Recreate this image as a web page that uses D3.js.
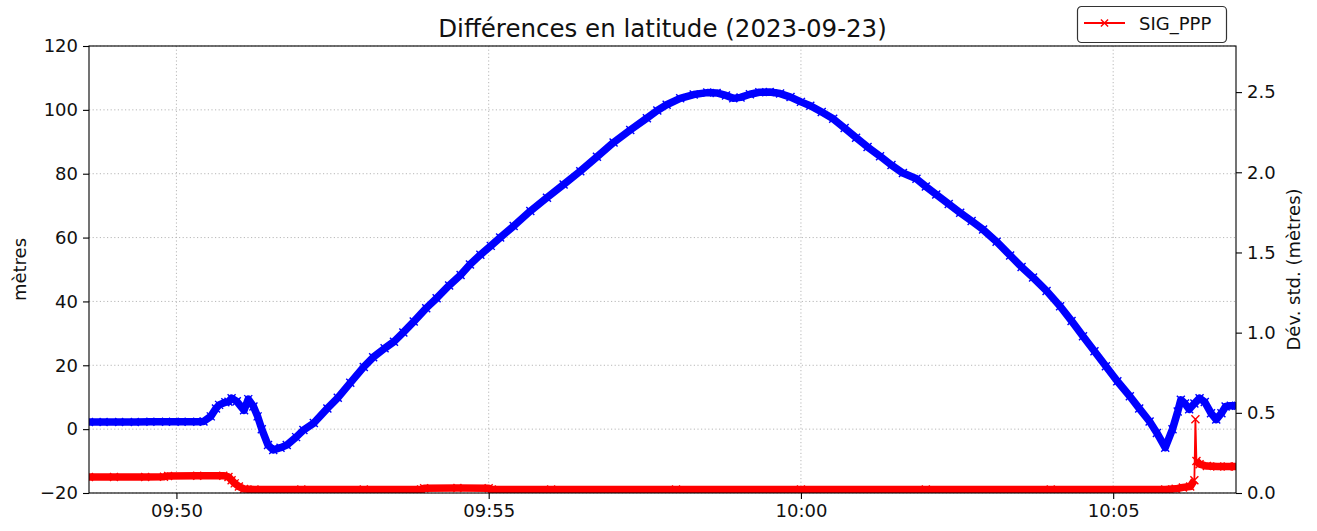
<!DOCTYPE html>
<html><head><meta charset="utf-8">
<script src="https://cdn.jsdelivr.net/npm/d3@7"></script>
<style>body{margin:0;background:#fff}svg{font-family:"DejaVu Sans",sans-serif}</style>
</head><body><svg id="c" width="1317" height="531"></svg>
<script>
const titleText = "Différences en latitude (2023-09-23)";
const leftLabel = "mètres";
const rightLabel = "Dév. std. (mètres)";
const legendLabels = ["SIG_PPP"];
const xTickTimes = ["09:50:00","09:55:00","10:00:00","10:05:00"];
const leftTicks = [-20,0,20,40,60,80,100,120];
const rightTicks = [0,0.5,1,1.5,2,2.5];
const xDomain = ["09:48:36","10:06:58"];
const leftDomain = [-20,120];
const rightDomain = [0,2.7875];

const blueTimes = ["09:48:36","09:48:50","09:49:05","09:49:20","09:49:35","09:49:50","09:50:05","09:50:20","09:50:26","09:50:33","09:50:38","09:50:41","09:50:47","09:50:50","09:50:53","09:50:58","09:51:05","09:51:09","09:51:14","09:51:18","09:51:22","09:51:28","09:51:33","09:51:40","09:51:46","09:51:55","09:52:02","09:52:12","09:52:25","09:52:35","09:52:47","09:53:00","09:53:09","09:53:20","09:53:29","09:53:38","09:53:48","09:54:00","09:54:10","09:54:22","09:54:33","09:54:42","09:54:52","09:55:02","09:55:11","09:55:24","09:55:40","09:55:56","09:56:12","09:56:28","09:56:44","09:57:00","09:57:16","09:57:32","09:57:42","09:57:51","09:58:04","09:58:17","09:58:30","09:58:39","09:58:48","09:58:55","09:59:02","09:59:11","09:59:20","09:59:30","09:59:40","09:59:50","10:00:00","10:00:09","10:00:20","10:00:31","10:00:42","10:00:53","10:01:04","10:01:16","10:01:27","10:01:38","10:01:51","10:02:00","10:02:10","10:02:22","10:02:33","10:02:44","10:02:55","10:03:08","10:03:21","10:03:32","10:03:43","10:03:56","10:04:09","10:04:20","10:04:31","10:04:42","10:04:53","10:05:04","10:05:16","10:05:25","10:05:35","10:05:42","10:05:50","10:05:57","10:06:02","10:06:05","10:06:09","10:06:13","10:06:18","10:06:23","10:06:28","10:06:34","10:06:39","10:06:44","10:06:48","10:06:53","10:06:58"];
const blueValues = [2.2,2.2,2.2,2.2,2.3,2.3,2.3,2.3,2.4,4.0,6.5,7.6,8.4,8.6,9.7,8.7,5.9,9.4,7.1,4.0,0.0,-5.0,-6.5,-5.8,-5.0,-2.5,-0.3,1.9,6.5,9.8,14.5,19.5,22.5,25.3,27.4,30.3,33.7,37.9,41.0,45.0,48.3,51.6,54.6,57.4,60.0,63.6,68.3,72.5,76.6,80.8,85.3,89.8,93.7,97.4,99.8,101.6,103.6,104.8,105.4,105.3,104.5,103.6,103.9,104.9,105.5,105.6,105.1,104.0,102.5,101.3,99.3,97.2,94.3,91.3,88.4,85.5,82.7,80.2,78.4,76.0,73.5,70.5,67.8,65.2,62.5,58.7,54.4,50.8,47.5,43.3,38.5,33.9,29.1,24.4,19.7,15.0,10.3,6.5,2.4,-1.2,-5.8,0.0,5.5,9.2,8.0,6.2,8.0,9.7,8.5,5.0,3.0,5.0,7.1,7.3,7.3];

const redTimes = ["09:48:36","09:49:00","09:49:30","09:49:48","09:49:52","09:50:20","09:50:45","09:50:50","09:50:53","09:50:56","09:51:00","09:51:05","09:51:15","09:52:00","09:53:00","09:53:55","09:53:58","09:54:30","09:55:00","09:55:03","09:56:00","09:58:00","10:00:00","10:02:00","10:04:00","10:05:50","10:06:00","10:06:07","10:06:14","10:06:18","10:06:19","10:06:20","10:06:23","10:06:30","10:06:40","10:06:50","10:06:58"];
const redValues = [0.100,0.100,0.100,0.102,0.106,0.108,0.108,0.100,0.080,0.060,0.040,0.025,0.022,0.022,0.022,0.022,0.030,0.031,0.030,0.022,0.022,0.022,0.022,0.022,0.022,0.022,0.026,0.035,0.040,0.080,0.460,0.200,0.180,0.168,0.166,0.165,0.165];

const W = 1317, H = 531;
const L = 89, R = 1236, T = 46, B = 493;
const svg = d3.select("#c");
const parse = d3.timeParse("%H:%M:%S");

const x = d3.scaleTime().domain(xDomain.map(parse)).range([L, R]);
const yL = d3.scaleLinear().domain(leftDomain).range([B, T]);
const yR = d3.scaleLinear().domain(rightDomain).range([B, T]);

svg.append("defs").append("clipPath").attr("id","clip")
  .append("rect").attr("x",L).attr("y",T).attr("width",R-L).attr("height",B-T);

// grid
const grid = svg.append("g").attr("stroke","#b0b0b0").attr("stroke-width",0.9).attr("stroke-dasharray","1.2,2.4");
grid.selectAll("line.gx").data(xTickTimes.map(parse)).join("line")
  .attr("x1",d=>x(d)).attr("x2",d=>x(d)).attr("y1",T).attr("y2",B);
grid.selectAll("line.gy").data(leftTicks).join("line")
  .attr("x1",L).attr("x2",R).attr("y1",d=>yL(d)).attr("y2",d=>yL(d));

const plot = svg.append("g").attr("clip-path","url(#clip)");
const xMark = s => `M${-s},${-s}L${s},${s}M${-s},${s}L${s},${-s}`;

// blue series
const blue = blueTimes.map((t,i)=>({t:parse(t), v:blueValues[i]}));
const lineB = d3.line().x(d=>x(d.t)).y(d=>yL(d.v));
plot.append("path").datum(blue).attr("d",lineB).attr("fill","none")
  .attr("stroke","#0000ff").attr("stroke-width",7.5).attr("stroke-linejoin","round").attr("stroke-linecap","round");
plot.append("g").selectAll("path").data(blue).join("path")
  .attr("transform",d=>`translate(${x(d.t)},${yL(d.v)})`).attr("d",xMark(4))
  .attr("stroke","#0000ff").attr("stroke-width",1.4).attr("fill","none");

// red series
const red = redTimes.map((t,i)=>({t:parse(t), v:redValues[i]}));
const lineR = d3.line().x(d=>x(d.t)).y(d=>yR(d.v));
const segs = [];
let cur = [red[0]];
for (let i=1;i<red.length;i++){
  if (Math.abs(red[i].v-red[i-1].v) > 0.1){ segs.push(cur); cur=[red[i]]; }
  else cur.push(red[i]);
}
segs.push(cur);
segs.filter(s=>s.length>1).forEach(s=>{
  plot.append("path").datum(s).attr("d",lineR).attr("fill","none")
    .attr("stroke","#ff0000").attr("stroke-width",7.5).attr("stroke-linejoin","round").attr("stroke-linecap","butt");
});
plot.append("path").datum(red).attr("d",lineR).attr("fill","none")
  .attr("stroke","#ff0000").attr("stroke-width",1.8);
plot.append("g").selectAll("path").data(red).join("path")
  .attr("transform",d=>`translate(${x(d.t)},${yR(d.v)})`).attr("d",xMark(4))
  .attr("stroke","#ff0000").attr("stroke-width",1.4).attr("fill","none");

// axes
const fs = "18px";
const xAxis = d3.axisBottom(x).tickValues(xTickTimes.map(parse)).tickFormat(d3.timeFormat("%H:%M")).tickSize(6).tickPadding(5);
const gx = svg.append("g").attr("transform",`translate(0,${B})`).call(xAxis);
const yAxisL = d3.axisLeft(yL).tickValues(leftTicks).tickFormat(d=>d<0?"\u2212"+Math.abs(d):d).tickSize(6).tickPadding(5);
const gyl = svg.append("g").attr("transform",`translate(${L},0)`).call(yAxisL);
const yAxisR = d3.axisRight(yR).tickValues(rightTicks).tickFormat(d3.format(".1f")).tickSize(6).tickPadding(5);
const gyr = svg.append("g").attr("transform",`translate(${R},0)`).call(yAxisR);
[gx,gyl,gyr].forEach(g=>{
  g.select(".domain").remove();
  g.selectAll("text").attr("font-size",fs).attr("fill","#111").attr("font-family","DejaVu Sans");
  g.selectAll("line").attr("stroke","#000").attr("stroke-width",1.1);
});
gx.selectAll("text").attr("dy","0.71em");
svg.append("rect").attr("x",L).attr("y",T).attr("width",R-L).attr("height",B-T)
  .attr("fill","none").attr("stroke","#000").attr("stroke-width",1.1);

// labels
svg.append("text").attr("x",(L+R)/2).attr("y",37).attr("text-anchor","middle")
  .attr("font-size","24.5px").attr("fill","#111").text(titleText);
svg.append("text").attr("transform",`translate(26,${(T+B)/2}) rotate(-90)`).attr("text-anchor","middle")
  .attr("font-size",fs).attr("fill","#111").text(leftLabel);
svg.append("text").attr("transform",`translate(1300,${(T+B)/2}) rotate(-90)`).attr("text-anchor","middle")
  .attr("font-size",fs).attr("fill","#111").text(rightLabel);

// legend
const lg = svg.append("g");
lg.append("rect").attr("x",1077.5).attr("y",6.5).attr("width",149).attr("height",36).attr("rx",4)
  .attr("fill","#fff").attr("stroke","#333").attr("stroke-width",1.2);
lg.append("line").attr("x1",1084).attr("x2",1125).attr("y1",23).attr("y2",23).attr("stroke","#ff0000").attr("stroke-width",1.8);
lg.append("path").attr("transform","translate(1104.5,23)").attr("d",xMark(3.6)).attr("stroke","#ff0000").attr("stroke-width",1.4);
lg.append("text").attr("x",1139).attr("y",30).attr("font-size",fs).attr("fill","#111").text(legendLabels[0]);
</script></body></html>
